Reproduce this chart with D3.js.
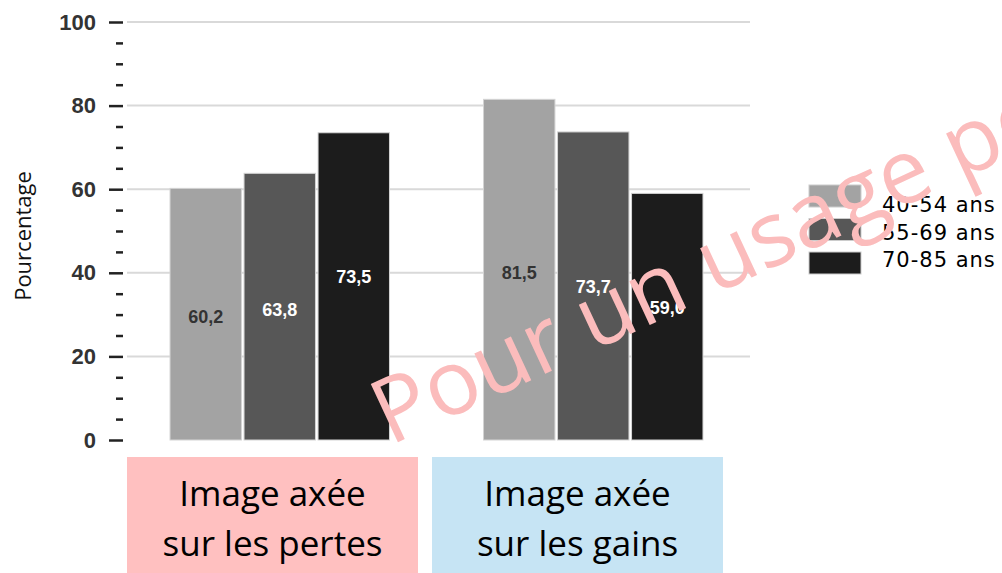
<!DOCTYPE html>
<html>
<head>
<meta charset="utf-8">
<script src="https://cdnjs.cloudflare.com/ajax/libs/d3/7.8.5/d3.min.js"></script>
<style>
  body { margin: 0; background: #fff; }
</style>
</head>
<body>
<div id="chart"></div>
<script>
// data
var groups = ['pertes', 'gains'];
var groupLabels = [['Image axée', 'sur les pertes'], ['Image axée', 'sur les gains']];
var series = ['40-54 ans', '55-69 ans', '70-85 ans'];
var pertes = [60.2, 63.8, 73.5];
var gains = [81.5, 73.7, 59.0];
var yTicks = [0, 20, 40, 60, 80, 100];

var width = 1002, height = 573;
var barColors = ['#a3a3a3', '#575757', '#1c1c1c'];
var labelColors = ['#333', '#fff', '#fff'];
var labelShift = [[2, 2, -10], [2, 0, -10]]; // labels are not exactly centred in the source
var boxColors = ['#ffc0c0', '#c6e4f4'];

var svg = d3.select('#chart')
  .append('svg')
  .attr('width', width)
  .attr('height', height);

var y = d3.scaleLinear().domain([0, 100]).range([440, 22]);

var x0 = d3.scaleBand()
  .domain(groups)
  .range([123, 750])
  .paddingInner(0.3)
  .paddingOuter(0.15);

var x1 = d3.scaleBand()
  .domain(series)
  .range([0, x0.bandwidth()])
  .paddingInner(0.035);

var color = d3.scaleOrdinal().domain(series).range(barColors);

// grid lines
svg.append('g')
  .selectAll('line')
  .data(yTicks.filter(function(d) { return d > 0; }))
  .enter()
  .append('line')
  .attr('x1', 127).attr('x2', 750)
  .attr('y1', function(d) { return y(d); })
  .attr('y2', function(d) { return y(d); })
  .attr('stroke', '#d9d9d9')
  .attr('stroke-width', 2);

// y axis: major ticks with labels, minor ticks every 5
var yAxis = svg.append('g')
  .attr('transform', 'translate(123,0)')
  .call(d3.axisLeft(y).tickValues(yTicks).tickSize(14).tickPadding(13));
yAxis.select('.domain').remove();
yAxis.selectAll('line').attr('stroke', '#222').attr('stroke-width', 2.5);
yAxis.selectAll('text')
  .attr('font-family', 'Liberation Sans, Arial, sans-serif')
  .attr('font-size', 22)
  .attr('font-weight', 'bold')
  .attr('fill', '#333');

var minor = d3.range(0, 101, 5).filter(function(d) { return d % 20 !== 0; });
var yMinor = svg.append('g')
  .attr('transform', 'translate(123,0)')
  .call(d3.axisLeft(y).tickValues(minor).tickSize(7).tickFormat(''));
yMinor.select('.domain').remove();
yMinor.selectAll('line').attr('stroke', '#222').attr('stroke-width', 2.5);

svg.append('text')
  .attr('transform', 'translate(31,236) rotate(-90)')
  .attr('text-anchor', 'middle')
  .attr('font-family', 'Open Sans, sans-serif')
  .attr('font-size', 22)
  .attr('fill', '#111')
  .text('Pourcentage');

// bars
var rows = [pertes, gains];
var group = svg.selectAll('.grp')
  .data(groups)
  .enter()
  .append('g')
  .attr('class', 'grp')
  .attr('transform', function(d) { return 'translate(' + x0(d) + ',0)'; });

function cells(d, i) {
  return series.map(function(s, j) { return { key: s, value: rows[i][j], idx: j, g: i }; });
}

group.selectAll('rect')
  .data(cells)
  .enter()
  .append('rect')
  .attr('x', function(d) { return x1(d.key); })
  .attr('y', function(d) { return y(d.value); })
  .attr('width', x1.bandwidth())
  .attr('height', function(d) { return y(0) - y(d.value); })
  .attr('fill', function(d) { return color(d.key); })
  .attr('stroke', '#d4d4d4')
  .attr('stroke-width', 1);

group.selectAll('.val')
  .data(cells)
  .enter()
  .append('text')
  .attr('class', 'val')
  .attr('x', function(d) { return x1(d.key) + x1.bandwidth() / 2; })
  .attr('y', function(d) { return (y(d.value) + y(0)) / 2 + 7 + labelShift[d.g][d.idx]; })
  .attr('text-anchor', 'middle')
  .attr('font-family', 'Liberation Sans, Arial, sans-serif')
  .attr('font-size', 18)
  .attr('font-weight', 'bold')
  .attr('fill', function(d) { return labelColors[d.idx]; })
  .text(function(d) { return d.value.toFixed(1).replace('.', ','); });

// category boxes under the axis
var boxX = [127, 432], boxW = 291;
groups.forEach(function(g, i) {
  svg.append('rect')
    .attr('x', boxX[i]).attr('y', 457)
    .attr('width', boxW).attr('height', 116)
    .attr('fill', boxColors[i]);
  groupLabels[i].forEach(function(line, k) {
    svg.append('text')
      .attr('x', boxX[i] + boxW / 2)
      .attr('y', 506 + k * 50)
      .attr('text-anchor', 'middle')
      .attr('font-family', 'Open Sans, sans-serif')
      .attr('font-size', 35)
      .attr('fill', '#000')
      .text(line);
  });
});

// legend
var legendSize = { w: 52, h: 22 };
var legend = svg.selectAll('.legend')
  .data(series)
  .enter()
  .append('g')
  .attr('class', 'legend');
legend.append('rect')
  .attr('x', 809)
  .attr('y', function(d, i) { return 185 + i * 33.5; })
  .attr('width', legendSize.w)
  .attr('height', legendSize.h)
  .attr('fill', color)
  .attr('stroke', '#ccc');
legend.append('text')
  .attr('x', 882)
  .attr('y', function(d, i) { return 212 + i * 27.5; })
  .attr('font-family', 'DejaVu Sans, Verdana, sans-serif')
  .attr('font-size', 21)
  .attr('letter-spacing', 1)
  .attr('fill', '#000')
  .text(function(d) { return d; });

// watermark, cut by the right edge as in the source
svg.append('text')
  .attr('transform', 'translate(390,446) rotate(-25)')
  .attr('font-family', 'Open Sans, sans-serif')
  .attr('font-size', 90)
  .attr('fill', '#fbbcbc')
  .text('Pour un usage pédagogique');
</script>
</body>
</html>
